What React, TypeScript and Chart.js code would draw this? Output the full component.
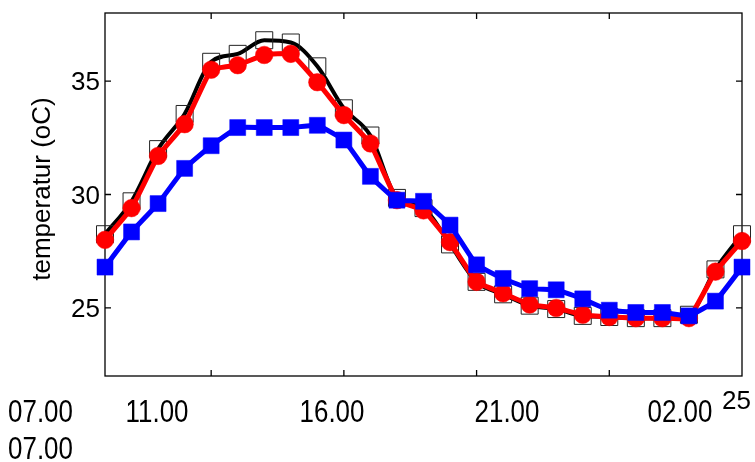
import React, { useEffect, useRef } from 'react';
import { Chart, registerables } from 'chart.js';

Chart.register(...registerables);

// Hourly categories (07.00 one day to 07.00 the next)
const hours = [
  '07.00', '08.00', '09.00', '10.00', '11.00', '12.00', '13.00', '14.00', '15.00',
  '16.00', '17.00', '18.00', '19.00', '20.00', '21.00', '22.00', '23.00', '00.00',
  '01.00', '02.00', '03.00', '04.00', '05.00', '06.00', '07.00',
];

// Series values (temperature, oC)
const blackSeries = [
  28.25, 29.7, 32.0, 33.55, 35.85, 36.2, 36.8, 36.7, 35.65, 33.8, 32.6, 29.85, 29.4,
  27.8, 26.15, 25.6, 25.1, 24.95, 24.65, 24.6, 24.55, 24.55, 24.7, 26.7, 28.25,
];
const redSeries = [
  28.0, 29.4, 31.7, 33.1, 35.5, 35.7, 36.15, 36.2, 34.95, 33.5, 32.25, 29.75, 29.3,
  27.9, 26.15, 25.65, 25.15, 25.0, 24.7, 24.6, 24.55, 24.55, 24.55, 26.6, 27.95,
];
const blueSeries = [
  26.8, 28.35, 29.6, 31.15, 32.15, 32.95, 32.95, 32.95, 33.05, 32.4, 30.8, 29.75, 29.7,
  28.65, 26.9, 26.3, 25.85, 25.8, 25.4, 24.9, 24.8, 24.8, 24.65, 25.3, 26.8,
];

// Axis ticks and labels
const yTicks = [25, 30, 35];
const yMin = 22;
const yMax = 38;
const xTickHours = ['11.00', '16.00', '21.00', '02.00'];
const bottomLabels = ['07.00', '11.00', '16.00', '21.00', '02.00'];
const secondRowLabel = '07.00';
const cornerLabel = '25';
const yTitle = 'temperatur (oC)';

// Layout (pixel positions of the loose bottom labels)
const bottomLabelX = [40.5, 157, 332, 507, 680];
const bottomRow1Y = 422;
const bottomRow2Y = 459;
const cornerLabelPos = { x: 722, y: 409 };
const yTitlePos = { x: 49.5, y: 189 };

const FONT = '"Liberation Sans", Arial, Helvetica, sans-serif';

const framePlugin = {
  id: 'frameAndText',
  beforeDatasetsDraw(chart: any) {
    const { ctx, chartArea: a, scales } = chart;
    ctx.save();
    ctx.strokeStyle = '#000';
    ctx.lineWidth = 1.3;
    ctx.strokeRect(a.left, a.top, a.right - a.left, a.bottom - a.top);
    ctx.beginPath();
    for (const v of yTicks) {
      const y = scales.y.getPixelForValue(v);
      ctx.moveTo(a.left, y);
      ctx.lineTo(a.left + 6, y);
      ctx.moveTo(a.right, y);
      ctx.lineTo(a.right - 6, y);
    }
    for (const h of xTickHours) {
      const x = scales.x.getPixelForValue(hours.indexOf(h));
      ctx.moveTo(x, a.bottom);
      ctx.lineTo(x, a.bottom - 6);
      ctx.moveTo(x, a.top);
      ctx.lineTo(x, a.top + 6);
    }
    ctx.stroke();
    ctx.restore();
  },
  afterDraw(chart: any) {
    const { ctx, chartArea: a, scales } = chart;
    ctx.save();
    ctx.fillStyle = '#000';
    // y tick labels
    ctx.font = `26px ${FONT}`;
    ctx.textAlign = 'right';
    ctx.textBaseline = 'alphabetic';
    for (const v of yTicks) {
      const y = scales.y.getPixelForValue(v);
      ctx.fillText(String(v), a.left - 5, y + 9.3);
    }
    // y title
    ctx.save();
    ctx.translate(yTitlePos.x, yTitlePos.y);
    ctx.rotate(-Math.PI / 2);
    ctx.textAlign = 'center';
    ctx.font = `26px ${FONT}`;
    ctx.fillText(yTitle, 0, 0);
    ctx.restore();
    // bottom labels (condensed)
    const drawCondensed = (t: string, cx: number, by: number) => {
      ctx.save();
      ctx.translate(cx, by);
      ctx.scale(0.81, 1);
      ctx.textAlign = 'center';
      ctx.font = `32px ${FONT}`;
      ctx.fillText(t, 0, 0);
      ctx.restore();
    };
    bottomLabels.forEach((t, i) => drawCondensed(t, bottomLabelX[i], bottomRow1Y));
    drawCondensed(secondRowLabel, bottomLabelX[0], bottomRow2Y);
    // corner label
    ctx.font = `26px ${FONT}`;
    ctx.textAlign = 'left';
    ctx.fillText(cornerLabel, cornerLabelPos.x, cornerLabelPos.y);
    ctx.restore();
  },
};

export default function App() {
  const ref = useRef<HTMLCanvasElement>(null);
  useEffect(() => {
    const chart = new Chart(ref.current as HTMLCanvasElement, {
      type: 'line',
      data: {
        labels: hours,
        datasets: [
          {
            label: 'blue',
            data: blueSeries,
            borderColor: '#0000ff',
            borderWidth: 5,
            borderJoinStyle: 'round',
            borderCapStyle: 'round',
            tension: 0.1,
            pointStyle: 'rect',
            pointRadius: 11.3,
            pointBackgroundColor: '#0000ff',
            pointBorderColor: '#0000ff',
            pointBorderWidth: 0.5,
            clip: false,
          } as any,
          {
            label: 'red',
            data: redSeries,
            borderColor: '#ff0000',
            borderWidth: 5,
            borderJoinStyle: 'round',
            borderCapStyle: 'round',
            tension: 0.1,
            pointStyle: 'circle',
            pointRadius: 8.8,
            pointBackgroundColor: '#ff0000',
            pointBorderColor: '#ff0000',
            pointBorderWidth: 0.5,
            clip: false,
          } as any,
          {
            label: 'black',
            data: blackSeries,
            borderColor: '#000000',
            borderWidth: 4,
            borderJoinStyle: 'round',
            borderCapStyle: 'round',
            cubicInterpolationMode: 'monotone',
            pointStyle: 'rect',
            pointRadius: 12,
            pointBackgroundColor: 'rgba(0,0,0,0)',
            pointBorderColor: '#222222',
            pointBorderWidth: 1,
            clip: false,
          } as any,
        ],
      },
      options: {
        responsive: false,
        animation: false,
        events: [],
        layout: { padding: { left: 105, top: 11, right: 8, bottom: 86 } },
        plugins: { legend: { display: false }, tooltip: { enabled: false } },
        scales: {
          x: { type: 'category', display: false, offset: false },
          y: { type: 'linear', display: false, min: yMin, max: yMax },
        },
      },
      plugins: [framePlugin],
    });
    return () => chart.destroy();
  }, []);
  return (
    <div style={{ position: 'fixed', left: 0, top: 0, width: 755, height: 462, background: '#fff' }}>
      <canvas ref={ref} width={755} height={462} style={{ display: 'block', width: 755, height: 462 }} />
    </div>
  );
}
